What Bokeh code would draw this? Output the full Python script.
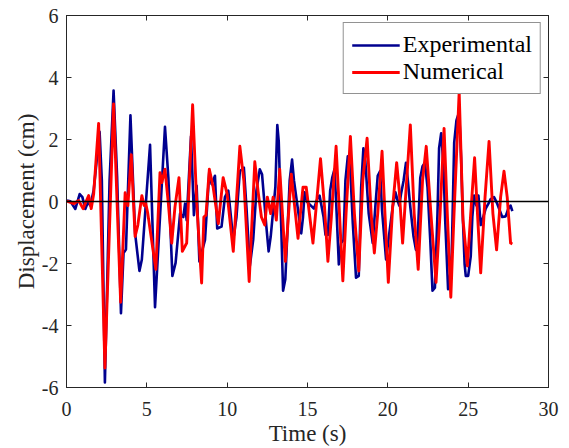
from bokeh.plotting import figure
from bokeh.models import Range1d, FixedTicker, LinearAxis, Span, Legend, LegendItem
from bokeh.embed import file_html
from bokeh.resources import INLINE

# ---- data ----
exp_t = [0.03, 0.24, 0.55, 0.82, 0.99, 1.17, 1.34, 1.48, 1.69, 2.06, 2.2, 2.39, 2.68, 2.93, 3.15, 3.39, 3.55, 3.7,
         3.98, 4.27, 4.54, 4.69, 5.2, 5.51, 5.82, 6.13, 6.34, 6.59, 6.79, 7.07, 7.27, 7.38, 7.48, 7.75, 7.93,
         8.1, 8.27, 8.62, 8.89, 9.03, 9.24, 9.38, 9.65, 9.86, 10.07, 10.38, 10.58, 10.79, 11.04, 11.2, 11.41,
         11.62, 11.82, 12.03, 12.17, 12.44, 12.58, 12.71, 13.0, 13.12, 13.21, 13.48, 13.62, 13.89, 14.04,
         14.16, 14.61, 14.72, 14.82, 14.99, 15.4, 15.65, 15.75, 16.0, 16.12, 16.27, 16.41, 16.54, 16.68,
         16.78, 16.95, 17.09, 17.24, 17.36, 17.51, 17.65, 17.82, 18.02, 18.19, 18.34, 18.48, 18.6, 18.81,
         19.06, 19.22, 19.37, 19.52, 19.64, 19.89, 20.09, 20.3, 20.47, 20.61, 20.71, 20.82, 20.98, 21.13,
         21.23, 21.4, 21.6, 21.75, 21.85, 22.02, 22.16, 22.31, 22.47, 22.64, 22.78, 22.93, 23.09, 23.19,
         23.32, 23.46, 23.57, 23.75, 23.85, 23.98, 24.13, 24.27, 24.44, 24.56, 24.66, 24.78, 24.85, 25.0,
         25.16, 25.26, 25.37, 25.51, 25.64, 25.78, 25.88, 26.09, 26.26, 26.4, 26.61, 26.81, 27.12, 27.33,
         27.5, 27.64, 27.75]
exp_v = [0.03, 0.01, -0.24, 0.24, 0.14, -0.24, -0.02, -0.13, 0.35, 2.25, 0.67, -5.84, 0.67, 3.58, 0.8, -3.6,
         -1.66, -1.55, 2.78, -1.03, -2.24, -1.87, 1.83, -3.41, -0.5, 2.41, 0.77, -2.4, -1.98, -0.39, -0.5,
         -0.07, -0.6, 2.1, -0.44, 0.51, -1.93, -1.24, 0.98, 0.56, 0.83, -0.87, -0.81, 0.14, 0.35, -1.24,
         -0.5, 0.98, 1.09, -0.18, -2.08, -1.24, 0.35, 1.04, 0.88, -0.81, -1.61, -1.13, 0.46, 2.47, 1.94,
         -2.88, -2.51, 0.67, 1.35, 0.67, -1.03, -0.5, 0.3, -0.02, -0.23, 0.14, 0.19, -0.5, -1.08, -1.08,
         0.35, 0.77, 1.04, 0.03, -2.03, -1.34, -1.24, 0.67, 1.46, 1.19, -0.71, -2.46, -2.4, 0.46, 1.72,
         1.3, -0.39, -1.34, -0.18, 0.83, 0.98, -0.29, -1.87, -1.03, -0.18, 0.3, 0.03, -0.13, 0.24, 0.67,
         1.25, 0.77, -0.18, -1.13, -1.56, -1.24, 0.77, 1.14, 1.25, 0.46, -1.24, -2.88, -2.78, -0.39, 1.72,
         2.2, 1.19, -0.6, -2.83, -2.6, -1.66, 1.9, 2.62, 2.89, 1.41, -0.39, -2.03, -2.4, -2.4, -1.77,
         -0.5, 0.19, -0.13, 0.19, -0.76, -0.6, -0.23, -0.07, 0.08, 0.14, -0.07, -0.5, -0.48, -0.23,
         -0.13, -0.31]

num_t = [0.03, 0.45, 0.76, 1.03, 1.38, 1.54, 1.69, 2.0, 2.39, 2.93, 3.37, 3.65, 3.82, 4.03, 4.27, 4.44, 4.69,
         4.83, 4.94, 5.06, 5.56, 5.82, 5.93, 6.13, 6.34, 6.55, 6.75, 7.0, 7.21, 7.48, 7.85, 8.1, 8.41, 8.55,
         8.68, 8.89, 9.13, 9.45, 9.75, 10.0, 10.38, 10.79, 11.04, 11.37, 11.72, 11.93, 12.13, 12.34, 12.5,
         12.71, 12.86, 13.06, 13.27, 13.62, 13.99, 14.41, 14.72, 14.92, 15.34, 15.81, 16.06, 16.27, 16.47,
         16.78, 16.99, 17.2, 17.4, 17.67, 17.92, 18.19, 18.44, 18.71, 18.96, 19.16, 19.37, 19.64, 19.84,
         20.03, 20.3, 20.55, 20.71, 20.92, 21.13, 21.4, 21.64, 21.89, 22.16, 22.39, 22.68, 23.0, 23.25,
         23.5, 23.71, 23.92, 24.12, 24.44, 24.68, 24.95, 25.16, 25.4, 25.58, 25.78, 26.05, 26.3, 26.54,
         26.77, 27.02, 27.23, 27.43, 27.64, 27.75]
num_v = [0.01, -0.07, 0.03, -0.23, 0.19, -0.23, 0.24, 2.52, -5.37, 3.15, -3.25, 0.28, -0.13, 1.51, -1.13,
         -0.76, 0.19, -0.13, -0.07, -0.39, -2.19, 0.93, 0.61, 1.04, -0.07, -1.34, -0.18, 0.77, -1.61, -1.34,
         3.12, 0.0, -2.63, -0.5, -0.44, 1.04, 0.46, -0.71, 0.77, 0.24, -1.61, 1.78, 0.67, -2.58, 1.28,
         0.3, -0.5, -0.76, 0.14, -0.39, 0.14, -0.6, 1.04, -1.93, 0.88, -1.19, 0.46, 0.46, -1.34, 1.38,
         -0.18, -1.93, -0.6, 1.78, -0.39, -2.56, -0.39, 2.1, -0.39, -2.24, 0.67, 2.04, -0.39, -1.66, -0.39,
         1.62, -0.6, -2.61, -0.18, 1.25, 0.35, -1.34, 0.35, 2.47, -0.39, -2.19, 0.67, 1.78, -0.39, -2.61,
         -0.39, 2.36, -0.5, -3.09, -0.39, 3.52, -0.6, -2.08, -0.39, 1.41, -0.39, -2.3, 0.14, 1.94, -0.39,
         -1.56, 0.14, 0.98, 0.14, -1.34, -1.37]

x_ticks = [0, 5, 10, 15, 20, 25, 30]
y_ticks = [-6, -4, -2, 0, 2, 4, 6]
series_names = ["Experimental", "Numerical"]

FONT = "Liberation Serif"
AX = "#262626"

p = figure(width=569, height=448, x_range=Range1d(0, 30), y_range=Range1d(-6, 6),
           output_backend="svg", toolbar_location=None,
           min_border_left=66, min_border_right=21, min_border_top=15, min_border_bottom=60)
p.background_fill_color = "white"
p.border_fill_color = "white"
p.outline_line_color = AX
p.outline_line_width = 1
p.xgrid.visible = False
p.ygrid.visible = False


def style_axis(ax, show_labels=True):
    ax.axis_line_color = AX
    ax.major_tick_line_color = AX
    ax.major_tick_in = 5
    ax.major_tick_out = 0
    ax.minor_tick_line_color = None
    ax.major_label_text_font = FONT
    if show_labels:
        ax.major_label_text_color = AX
        ax.major_label_text_font_size = "20px"
    else:
        ax.major_label_text_color = None
        ax.major_label_text_font_size = "1px"
        ax.major_label_standoff = 0


p.xaxis.ticker = FixedTicker(ticks=x_ticks)
p.yaxis.ticker = FixedTicker(ticks=y_ticks)
p.xaxis.major_label_overrides = {t: str(t) for t in x_ticks}
p.yaxis.major_label_overrides = {t: str(t) for t in y_ticks}
style_axis(p.xaxis[0])
style_axis(p.yaxis[0])
p.xaxis.major_label_standoff = 14
p.yaxis.major_label_standoff = 8
p.xaxis.axis_label = "Time (s)"
p.yaxis.axis_label = "Displacement (cm)"
for ax in (p.xaxis[0], p.yaxis[0]):
    ax.axis_label_text_font = FONT
    ax.axis_label_text_font_size = "23px"
    ax.axis_label_text_font_style = "normal"
    ax.axis_label_text_color = AX
p.xaxis.axis_label_standoff = 2
p.yaxis.axis_label_standoff = 0

top = LinearAxis(ticker=FixedTicker(ticks=x_ticks))
style_axis(top, False)
p.add_layout(top, "above")
right = LinearAxis(ticker=FixedTicker(ticks=y_ticks))
style_axis(right, False)
p.add_layout(right, "right")

r_exp = p.line(exp_t, exp_v, line_color="#00008F", line_width=2.6, line_join="round")
r_num = p.line(num_t, num_v, line_color="#FF0000", line_width=2.9, line_join="round")

p.add_layout(Span(location=0, dimension="width", line_color="black", line_width=1.5))

legend = Legend(items=[LegendItem(label=series_names[0], renderers=[r_exp]),
                       LegendItem(label=series_names[1], renderers=[r_num])],
                location="top_right")
legend.margin = 7
legend.padding = 8
legend.spacing = 0
legend.glyph_width = 48
legend.glyph_height = 20
legend.label_height = 20
legend.label_standoff = 3
legend.label_text_font = FONT
legend.label_text_font_size = "24px"
legend.label_text_color = "black"
legend.label_text_line_height = 0.8
legend.border_line_color = AX
legend.border_line_width = 1
legend.background_fill_alpha = 1
p.add_layout(legend)

open("out.html", "w").write(file_html(p, INLINE))
